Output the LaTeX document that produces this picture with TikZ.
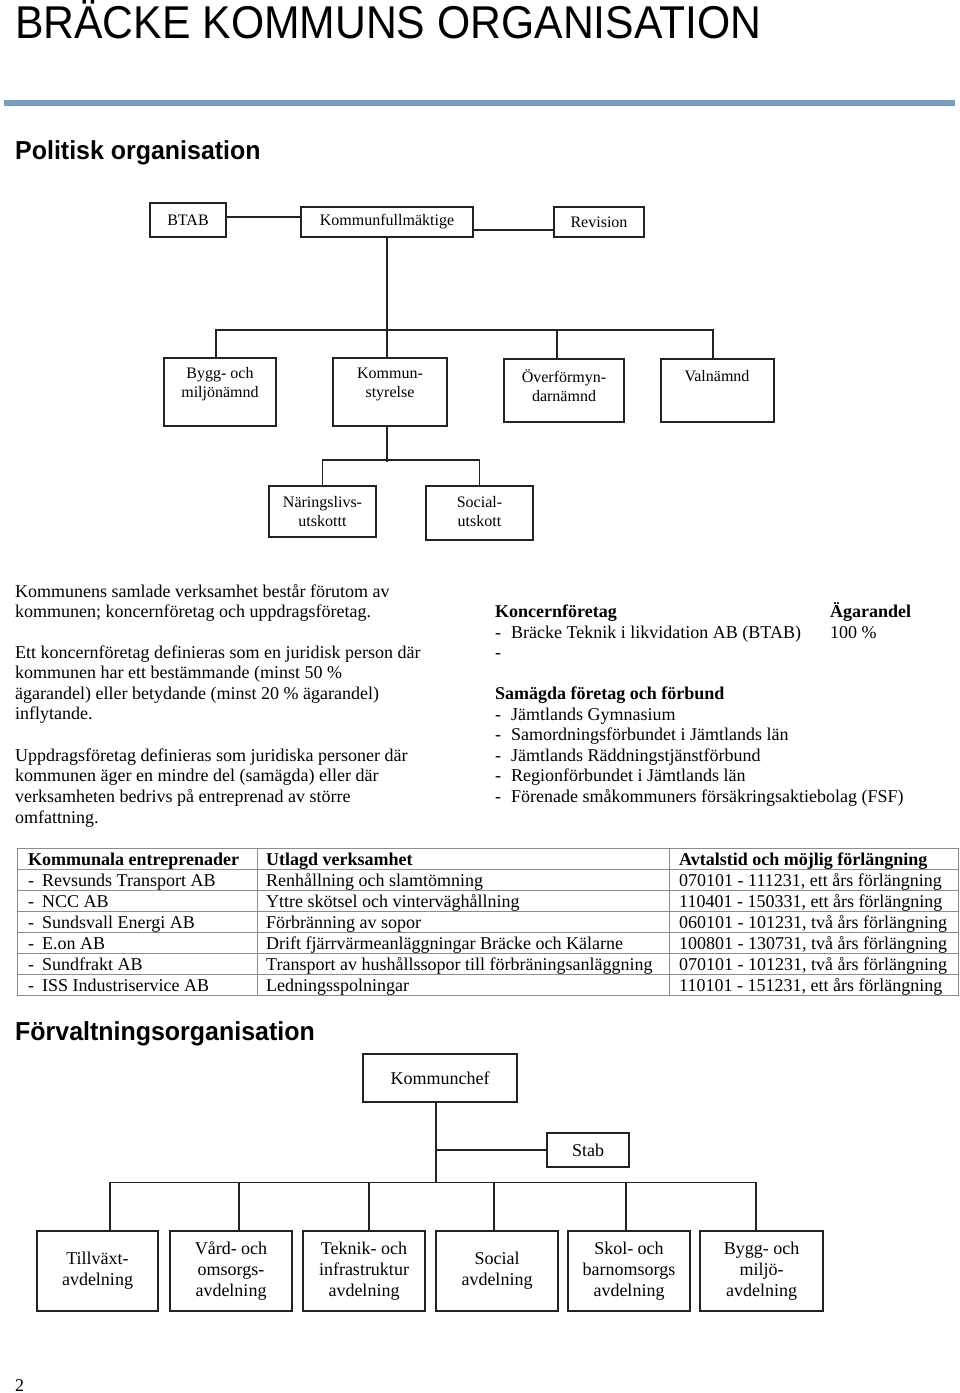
\documentclass[tikz,border=0pt]{standalone}
\usepackage{fontspec}
\setmainfont{Liberation Serif}
\setsansfont{Liberation Sans}
\usetikzlibrary{calc}
\definecolor{rulecol}{RGB}{122,156,191}
\definecolor{linecol}{RGB}{35,35,35}
\definecolor{gridcol}{RGB}{140,140,140}
\begin{document}
\begin{tikzpicture}[x=1pt,y=-1pt,
  box/.style={draw=linecol, line width=1.6pt, inner sep=0pt, fill=white},
  conn/.style={draw=linecol, line width=1.6pt},
  btxt/.style={font=\fontsize{16}{18.5}\selectfont, align=center, inner sep=0pt},
  dtxt/.style={font=\fontsize{18}{21}\selectfont, align=center, inner sep=0pt},
  body/.style={font=\fontsize{18}{20.5}\selectfont, inner sep=0pt, anchor=base west},
  bodyb/.style={body, font=\fontsize{18}{20.5}\selectfont\bfseries},
  head/.style={font=\sffamily\bfseries\fontsize{26}{30}\selectfont, inner sep=0pt, anchor=base west, xscale=0.96}
]
\useasboundingbox (0,0) rectangle (960,1393);
\fill[white] (0,0) rectangle (960,1393);

% Title and rule
\node[font=\sffamily\fontsize{46}{50}\selectfont, inner sep=0pt, anchor=base west, xscale=0.928] (title) at (15,38) {BRÄCKE KOMMUNS ORGANISATION};
\fill[rulecol] (4,100) rectangle (955,106);
\node[head] (h1) at (15,159) {Politisk organisation};

% Political org chart
\node[box, btxt, minimum width=76, minimum height=34] (btab) at (188,220) {BTAB};
\node[box, btxt, minimum width=172, minimum height=30] (kf) at (387,222) {Kommunfullmäktige};
\node[box, btxt, minimum width=90, minimum height=30] (rev) at (599,222) {Revision};
\draw[conn] ([yshift=3pt]btab.east) -- ([yshift=5pt]kf.west);
\draw[conn] ([yshift=-8pt]kf.east) -- ([yshift=-8pt]rev.west);

\node[box, minimum width=112, minimum height=68] (bygg) at (220,392) {};
\node[box, minimum width=114, minimum height=68] (ks) at (390,392) {};
\node[box, minimum width=120, minimum height=63] (overf) at (564,390.5) {};
\node[box, minimum width=113, minimum height=63] (valn) at (717.5,390.5) {};
\node[btxt] (byggt) at (220,384) {Bygg- och\\miljönämnd};
\node[btxt] (kst) at (390,384.5) {Kommun-\\styrelse};
\node[btxt] (overft) at (564,385.5) {Överförmyn-\\darnämnd};
\node[btxt] (valnt) at (717,376) {Valnämnd};

\draw[conn] (kf.south) -- (kf.south |- ks.north);
\draw[conn] ([xshift=-4pt]bygg.north) -- ++(0,-27) -| ([xshift=-4.5pt]valn.north);
\draw[conn] ([xshift=-7pt]overf.north) -- ++(0,-28);

\node[box, minimum width=107, minimum height=51] (nar) at (322.5,511.5) {};
\node[box, minimum width=107, minimum height=54] (soc) at (479.5,513) {};
\node[btxt] (nart) at (322.5,511.5) {Näringslivs-\\utskottt};
\node[btxt] (soct) at (479.5,511.5) {Social-\\utskott};
\draw[conn] ([xshift=-3pt]ks.south) -- ++(0,35);
\draw[conn] (nar.north) -- ++(0,-25) -| (soc.north);

% Left text
\foreach \yy/\txt in {597/{Kommunens samlade verksamhet består förutom av},
  617/{kommunen; koncernföretag och uppdragsföretag.},
  658/{Ett koncernföretag definieras som en juridisk person där},
  678/{kommunen har ett bestämmande (minst 50 \%},
  699/{ägarandel) eller betydande (minst 20 \% ägarandel)},
  719/{inflytande.},
  761/{Uppdragsföretag definieras som juridiska personer där},
  781/{kommunen äger en mindre del (samägda) eller där},
  802/{verksamheten bedrivs på entreprenad av större},
  823/{omfattning.}}
  \node[body] (p\yy) at (15,\yy) {\txt};

% Right text
\node[bodyb] (kon) at (495,617) {Koncernföretag};
\node[bodyb] (aga) at (830,617) {Ägarandel};
\node[body] (kd1) at (495,638) {-};
\node[body] (k1) at (511,638) {Bräcke Teknik i likvidation AB (BTAB)};
\node[body] (kp1) at (830,638) {100 \%};
\node[body] (kd2) at (495,658) {-};
\node[bodyb] (sam) at (495,699) {Samägda företag och förbund};
\foreach \yy/\txt in {720/{Jämtlands Gymnasium},
  740/{Samordningsförbundet i Jämtlands län},
  761/{Jämtlands Räddningstjänstförbund},
  781/{Regionförbundet i Jämtlands län},
  802/{Förenade småkommuners försäkringsaktiebolag (FSF)}}
  {\node[body] (sd\yy) at (495,\yy) {-};
   \node[body] (s\yy) at (511,\yy) {\txt};}

% Table
\draw[gridcol, line width=1pt] (17,848) rectangle (958,995);
\foreach \yy in {869,890,911,932,953,974}
  \draw[gridcol, line width=1pt] (17,\yy) -- (958,\yy);
\draw[gridcol, line width=1pt] (257,848) -- (257,995);
\draw[gridcol, line width=1pt] (669,848) -- (669,995);
\node[bodyb] (th1) at (28,865) {Kommunala entreprenader};
\node[bodyb] (th2) at (266,865) {Utlagd verksamhet};
\node[bodyb] (th3) at (679,865) {Avtalstid och möjlig förlängning};
\foreach \yy/\a/\b/\c in {886/{Revsunds Transport AB}/{Renhållning och slamtömning}/{070101 - 111231, ett års förlängning},
  907/{NCC AB}/{Yttre skötsel och vinterväghållning}/{110401 - 150331, ett års förlängning},
  928/{Sundsvall Energi AB}/{Förbränning av sopor}/{060101 - 101231, två års förlängning},
  949/{E.on AB}/{Drift fjärrvärmeanläggningar Bräcke och Kälarne}/{100801 - 130731, två års förlängning},
  970/{Sundfrakt AB}/{Transport av hushållssopor till förbräningsanläggning}/{070101 - 101231, två års förlängning},
  991/{ISS Industriservice AB}/{Ledningsspolningar}/{110101 - 151231, ett års förlängning}}
  {\node[body] (td\yy) at (28,\yy) {-};
   \node[body] (ta\yy) at (42,\yy) {\a};
   \node[body] (tb\yy) at (266,\yy) {\b};
   \node[body] (tc\yy) at (679,\yy) {\c};}

% Administrative org
\node[head] (h2) at (15,1040) {Förvaltningsorganisation};
\node[box, dtxt, minimum width=154, minimum height=48] (kc) at (440,1078) {Kommunchef};
\node[box, dtxt, minimum width=82, minimum height=34] (stab) at (588,1150) {Stab};
\node[box, dtxt, minimum width=121, minimum height=80] (till) at (97.5,1271) {Tillväxt-\\avdelning};
\node[box, dtxt, minimum width=122, minimum height=80] (vard) at (231,1271) {Vård- och\\omsorgs-\\avdelning};
\node[box, dtxt, minimum width=122, minimum height=80] (tek) at (364,1271) {Teknik- och\\infrastruktur\\avdelning};
\node[box, dtxt, minimum width=122, minimum height=80] (soc2) at (497,1271) {Social\\avdelning};
\node[box, dtxt, minimum width=122, minimum height=80] (skol) at (629,1271) {Skol- och\\barnomsorgs\\avdelning};
\node[box, dtxt, minimum width=123, minimum height=80] (bygg2) at (761.5,1271) {Bygg- och\\miljö-\\avdelning};
\coordinate (hub) at (436,1183);
\draw[conn, line width=1.3pt] ([xshift=-4pt]kc.south) -- (hub);
\draw[conn, line width=1.3pt] (hub |- stab.west) -- (stab.west);
\draw[conn, line width=1.3pt] ([xshift=12.5pt]till.north) -- ++(0,-48) -| ([xshift=-5.5pt]bygg2.north);
\draw[conn, line width=1.3pt] ([xshift=8pt]vard.north) -- ++(0,-48);
\draw[conn, line width=1.3pt] ([xshift=5pt]tek.north) -- ++(0,-48);
\draw[conn, line width=1.3pt] ([xshift=-3pt]soc2.north) -- ++(0,-48);
\draw[conn, line width=1.3pt] ([xshift=-3pt]skol.north) -- ++(0,-48);

\node[body] (pg) at (15,1391) {2};
\end{tikzpicture}
\end{document}
